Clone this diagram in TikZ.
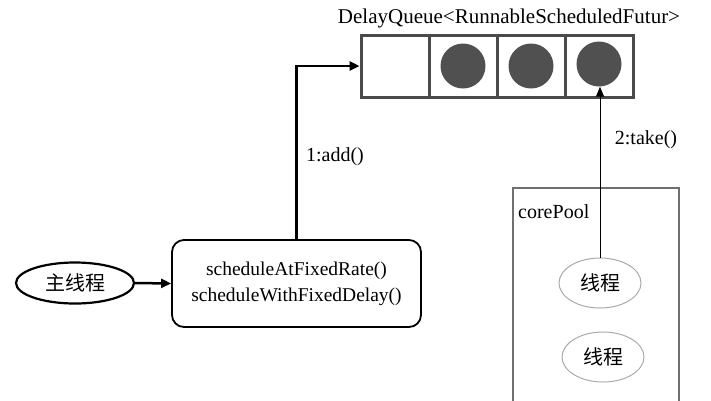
\documentclass[tikz,border=0pt]{standalone}
\usepackage{fontspec}
\setmainfont{Liberation Serif}
\newfontfamily\cjk{Noto Sans CJK SC}
\usetikzlibrary{arrows.meta,shapes.geometric}
\definecolor{qgray}{HTML}{4A4A4A}
\definecolor{ballgray}{HTML}{505050}
\definecolor{poolgray}{HTML}{707070}
\definecolor{thgray}{HTML}{AAAAAA}
\tikzset{
  cell/.style={draw=qgray, line width=3pt, minimum width=68pt, minimum height=62pt, inner sep=0pt},
  ball/.style={circle, fill=ballgray, minimum size=45pt, inner sep=0pt},
  schedbox/.style={draw=black, line width=1.8pt, rounded corners=12pt, minimum width=249pt, minimum height=87pt, align=center, font=\fontsize{19.5}{26}\selectfont},
  mainell/.style={ellipse, draw=black, line width=2.2pt, minimum width=118pt, minimum height=41pt, inner sep=0pt},
  poolbox/.style={draw=poolgray, line width=2.5pt, minimum width=166pt, minimum height=232pt, inner sep=0pt},
  thell/.style={ellipse, draw=thgray, line width=1pt, minimum width=82pt, minimum height=50pt, inner sep=0pt},
  thickarr/.style={line width=2.5pt, -{Triangle[length=10pt,width=9pt]}},
  thinarr/.style={line width=1pt, -{Triangle[length=10pt,width=8pt]}},
  lbl/.style={inner sep=0pt}
}
\begin{document}
\begin{tikzpicture}[x=1pt, y=-1pt, font=\fontsize{20}{26}\selectfont]
\useasboundingbox (0,0) rectangle (711,400);
% title
\node[lbl, font=\fontsize{21}{26}\selectfont] (title) at (509,18) {DelayQueue<RunnableScheduledFutur>};
% queue cells
\node[cell] (c1) at (395,66) {};
\node[cell] (c2) at (463,66) {};
\node[cell] (c3) at (531,66) {};
\node[cell] (c4) at (599,66) {};
\node[ball] (b2) at (463,66) {};
\node[ball] (b3) at (531,66) {};
\node[ball] (b4) at (599,64) {};
% main thread
\node[mainell] (main) at (75,283) {\cjk 主线程};
\node[schedbox] (sched) at (296.5,283.5) {scheduleAtFixedRate()\\scheduleWithFixedDelay()};
\draw[thickarr] (main.east) -- (sched.west);
\draw[thickarr] (sched.north) |- (c1.west);
\node[lbl] (add) at (335,157) {1:add()};
% core pool
\node[poolbox] (pool) at (596,304) {};
\node[lbl, anchor=west] (poollbl) at (518,212) {corePool};
\node[thell] (t1) at (600,283) {\cjk 线程};
\node[thell] (t2) at (603,357) {\cjk 线程};
\draw[thinarr] (t1.north) -- (t1.north |- b4.south);
\node[lbl] (take) at (646,140) {2:take()};
\end{tikzpicture}
\end{document}
